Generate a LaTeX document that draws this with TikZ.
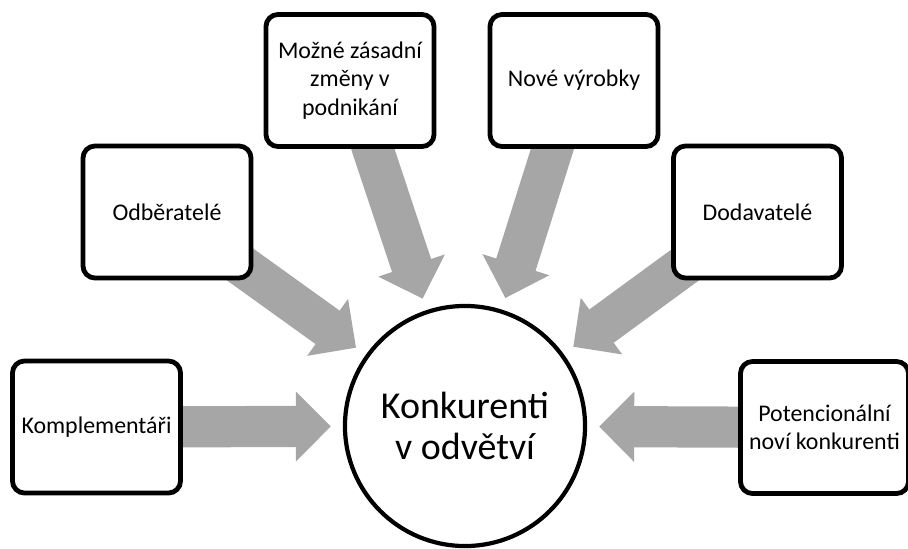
\documentclass[tikz,border=0pt]{standalone}
\usepackage{fontspec}
\setmainfont{Carlito}
\usetikzlibrary{shapes,arrows.meta,positioning,backgrounds}
\definecolor{arrowgray}{RGB}{166,166,166}
\tikzstyle{box} = [draw, rectangle, fill=white, line width=3.4pt, rounded corners=0.3cm, minimum width=4.2cm, minimum height=3.3cm, align=center, font=\fontsize{17}{20}\selectfont]
\tikzstyle{hub} = [draw, circle, fill=white, line width=3pt, minimum size=6cm, align=center, font=\fontsize{27}{29}\selectfont]
\tikzstyle{line} = [draw=arrowgray, line width=1.03cm, -{Triangle[length=0.875cm, width=1.7cm]}, shorten >=0.3cm]

\begin{document}
\begin{tikzpicture}[x=0.025cm, y=-0.025cm]
    \useasboundingbox (0,0) rectangle (908,548);
    % Nodes
    \node [hub] (konk) at (465,426) {Konkurenti\\v odvětví};
    \node [box] (komp) at (96.5,427) {Komplementáři};
    \node [box] (odber) at (167,212) {Odběratelé};
    \node [box] (zmeny) at (350,80.5) {Možné zásadní\\změny v\\podnikání};
    \node [box] (vyrobky) at (574,80.5) {Nové výrobky};
    \node [box] (dodav) at (757.5,212) {Dodavatelé};
    \node [box] (potenc) at (824.5,427.5) {Potencionální\\noví konkurenti};

    % Paths
    \begin{scope}[on background layer]
    \path [line] (komp.center) -- (konk);
    \path [line] (odber.center) -- (konk);
    \path [line] (zmeny.center) -- (konk);
    \path [line] (vyrobky.center) -- (konk);
    \path [line] (dodav.center) -- (konk);
    \path [line] (potenc.center) -- (konk);
    \end{scope}
\end{tikzpicture}
\end{document}
